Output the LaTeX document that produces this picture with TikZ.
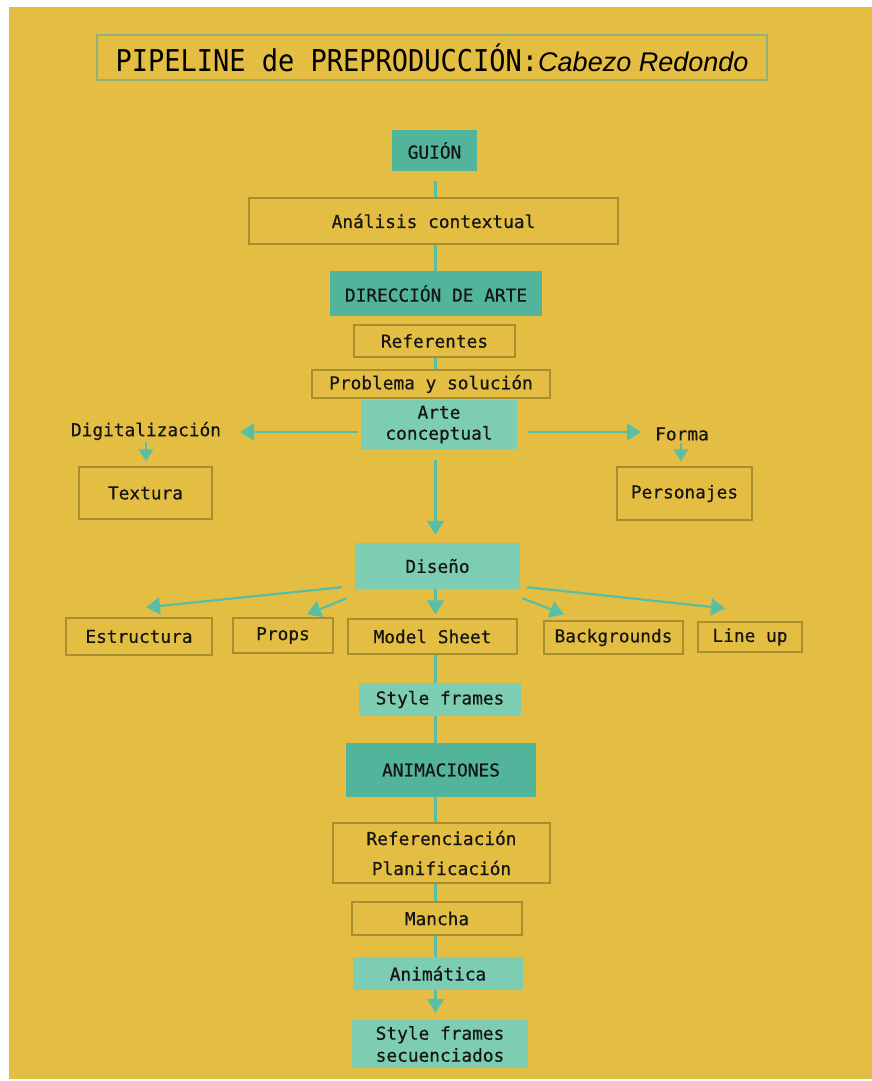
\documentclass[tikz,border=0pt]{standalone}
\usepackage{fontspec}
\newfontfamily\bodyfont[FakeBold=0.5]{DejaVu Sans Mono}
\newfontfamily\titlefont[FakeStretch=0.9]{DejaVu Sans Mono}
\newfontfamily\titleital{Liberation Sans}
\usetikzlibrary{arrows.meta,calc}
\definecolor{bgyellow}{HTML}{E4BE42}
\definecolor{darkteal}{HTML}{52B49B}
\definecolor{lightteal}{HTML}{7DCDB4}
\definecolor{conncol}{HTML}{5ABEA5}
\definecolor{boxline}{HTML}{A88E2E}
\definecolor{titleline}{HTML}{8FB080}
\definecolor{textdark}{HTML}{151515}
\tikzset{
  every node/.style={inner sep=0pt, text=textdark, font=\bodyfont\fontsize{17.8}{21}\selectfont},
  sz/.style 2 args={minimum width=#1pt, minimum height=#2pt},
  obox/.style={draw=boxline, line width=1.2pt},
  dbox/.style={fill=darkteal},
  lbox/.style={fill=lightteal},
  conn/.style={draw=conncol, line width=2.2pt},
  arr/.style={conn, -{Triangle[width=17pt,length=14pt]}},
  sarr/.style={conn, -{Triangle[width=14pt,length=12pt]}},
}
\begin{document}
\begin{tikzpicture}[x=1pt,y=-1pt]
\fill[white] (0,0) rectangle (872,1081);
\fill[bgyellow] (9,7) rectangle (872,1079);
\useasboundingbox (0,0) rectangle (872,1081);
\coordinate (lx) at (435.5,0);

% title
\node[draw=titleline, line width=1.2pt, sz={670}{45}, text=black] (title) at (432,57.5)
  {{\titlefont\fontsize{30}{36}\selectfont PIPELINE de PREPRODUCCIÓN:}{\titleital\itshape\fontsize{27}{30}\selectfont Cabezo Redondo}};

% main column
\node[dbox, sz={85}{41}] (guion) at (434.5,150.5) {GUIÓN};
\node[obox, sz={369}{46}] (analisis) at (433.5,221) {Análisis contextual};
\node[dbox, sz={212}{45}] (direccion) at (436,293.5) {DIRECCIÓN DE ARTE};
\node[obox, sz={161}{32}] (referentes) at (434.5,341) {Referentes};
\node[obox, sz={238}{28}] (problema) at (431,384) {Problema y solución};
\node[lbox, sz={156}{49}, align=center] (arte) at (439,424.5) {Arte\\conceptual};

\node (digit) at (146,431) {Digitalización};
\node[obox, sz={133}{52}] (textura) at (145.5,493) {Textura};
\node (forma) at (682,434) {Forma};
\node[obox, sz={135}{53}] (personajes) at (684.5,493.5) {Personajes};

\node[lbox, sz={165}{46}] (diseno) at (437.5,566) {Diseño};
\node[obox, sz={146}{37}] (estructura) at (139,636.5) {Estructura};
\node[obox, sz={100}{35}] (props) at (283,635.5) {Props};
\node[obox, sz={169}{35}] (model) at (432.5,636.5) {Model Sheet};
\node[obox, sz={139}{33}] (backgrounds) at (613.5,637.5) {Backgrounds};
\node[obox, sz={104}{30}] (lineup) at (750,637) {Line up};

\node[lbox, sz={162}{33}] (styleframes) at (440,699.5) {Style frames};
\node[dbox, sz={190}{54}] (animaciones) at (441,770) {ANIMACIONES};
\node[obox, sz={217}{60}, align=center] (referenciacion) at (441.5,853) {Referenciación\\[9pt]Planificación};
\node[obox, sz={170}{33}] (mancha) at (437,918.5) {Mancha};
\node[lbox, sz={170}{33}] (animatica) at (438,973.5) {Animática};
\node[lbox, sz={176}{48}, align=center] (sfsec) at (440,1044) {Style frames\\[1pt]secuenciados};

% plain connectors
\draw[conn] ([yshift=-10pt]guion.south -| lx) -- (analisis.north -| lx);
\draw[conn] (analisis.south -| lx) -- (direccion.north -| lx);
\draw[conn] (referentes.south -| lx) -- (problema.north -| lx);
\draw[conn] (model.south -| lx) -- (styleframes.north -| lx);
\draw[conn] (styleframes.south -| lx) -- (animaciones.north -| lx);
\draw[conn] (animaciones.south -| lx) -- (referenciacion.north -| lx);
\draw[conn] (referenciacion.south -| lx) -- (mancha.north -| lx);
\draw[conn] (mancha.south -| lx) -- (animatica.north -| lx);

% arrows
\draw[arr] ([xshift=-3pt,yshift=-7.5pt]arte.west) -- ([xshift=19pt,yshift=-1pt]digit.east);
\draw[arr] ([xshift=11pt,yshift=-7.5pt]arte.east) -- ([xshift=-14pt,yshift=2pt]forma.west);
\draw[sarr] ([yshift=-2pt]digit.south) -- ([yshift=5pt]digit.south |- textura.north);
\draw[sarr] ([xshift=-1pt,yshift=-2pt]forma.south) -- ([xshift=-1pt,yshift=5pt]forma.south |- personajes.north);
\draw[arr] ([yshift=-11pt]arte.south -| lx) -- ([yshift=8pt]diseno.north -| lx);
\draw[arr] ([xshift=-13pt,yshift=2pt]diseno.south west) -- ([xshift=7pt,yshift=10pt]estructura.north);
\draw[arr] ([xshift=-8pt,yshift=-9pt]diseno.south west) -- ([xshift=24pt,yshift=3pt]props.north);
\draw[arr] (diseno.south -| lx) -- ([yshift=4pt]model.north -| lx);
\draw[arr] ([xshift=2pt,yshift=-9pt]diseno.south east) -- ([xshift=-49.5pt,yshift=6pt]backgrounds.north);
\draw[arr] ([xshift=7pt,yshift=2pt]diseno.south east) -- ([xshift=-25pt,yshift=13pt]lineup.north);
\draw[arr] (animatica.south -| lx) -- ([yshift=7pt]sfsec.north -| lx);
\end{tikzpicture}
\end{document}
